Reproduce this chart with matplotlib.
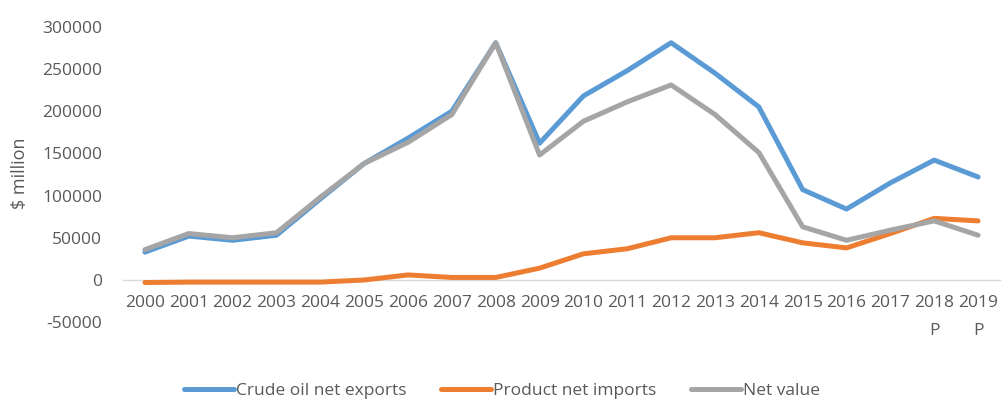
import matplotlib
matplotlib.use("Agg")
import matplotlib.pyplot as plt
from matplotlib.ticker import FixedLocator

plt.rcParams['font.family'] = ['Open Sans', 'DejaVu Sans']

years = ["2000", "2001", "2002", "2003", "2004", "2005", "2006", "2007", "2008", "2009",
         "2010", "2011", "2012", "2013", "2014", "2015", "2016", "2017", "2018\nP", "2019\nP"]

crude_net_exports = [33000, 52000, 47000, 53000, 96000, 138000, 168000, 200000, 281000, 162000,
                     218000, 248000, 281000, 245000, 205000, 107000, 84000, 115000, 142000, 122000]
product_net_imports = [-3000, -2500, -2500, -2500, -2500, 0, 6000, 3000, 3000, 14000,
                       31000, 37000, 50000, 50000, 56000, 44000, 38000, 55000, 73000, 70000]
net_value = [36000, 55000, 50000, 56000, 98000, 138000, 163000, 196000, 281000, 148000,
             188000, 211000, 231000, 196000, 151000, 63000, 47000, 59000, 70000, 53000]

series_names = ["Crude oil net exports", "Product net imports", "Net value"]
series_colors = ["#5B9BD5", "#ED7D31", "#A5A5A5"]

text_color = "#595959"
fs = 12.5

fig = plt.figure(figsize=(10.03, 4.0), dpi=100)
ax = fig.add_axes([123 / 1003, 1 - 322.2 / 400, (1000 - 123) / 1003, (322.2 - 26.7) / 400])

x = list(range(len(years)))
for vals, name, col in zip([crude_net_exports, product_net_imports, net_value],
                           series_names, series_colors):
    ax.plot(x, vals, color=col, lw=3.6, label=name, solid_joinstyle='round',
            solid_capstyle='round')

ax.set_xlim(-0.5, len(years) - 0.5)
ax.set_ylim(-50000, 300000)
ax.yaxis.set_major_locator(FixedLocator(range(-50000, 300001, 50000)))
ax.set_yticklabels([str(v) for v in range(-50000, 300001, 50000)])

ax.set_xticks(x)
ax.set_xticklabels(years)

for side in ['top', 'right', 'left']:
    ax.spines[side].set_visible(False)
ax.spines['bottom'].set_position(('data', 0))
ax.spines['bottom'].set_color('#D9D9D9')
ax.spines['bottom'].set_linewidth(1.0)
ax.spines['bottom'].set_zorder(0)

ax.tick_params(axis='x', length=0, pad=11, labelsize=fs, colors=text_color)
ax.tick_params(axis='y', length=0, pad=15, labelsize=fs, colors=text_color)
for lbl in ax.get_xticklabels():
    lbl.set_linespacing(2.0)

fig.text(20 / 1003, 1 - 173 / 400, "$ million", rotation=90, ha='center', va='center',
         fontsize=fs + 0.5, color=text_color)

leg = fig.legend(loc='center', bbox_to_anchor=(502 / 1003, 1 - 391 / 400), ncol=3,
                 frameon=False, fontsize=fs, handlelength=2.9, handletextpad=0.1,
                 columnspacing=2.0, labelcolor=text_color)

fig.savefig("out.png", dpi=100)
